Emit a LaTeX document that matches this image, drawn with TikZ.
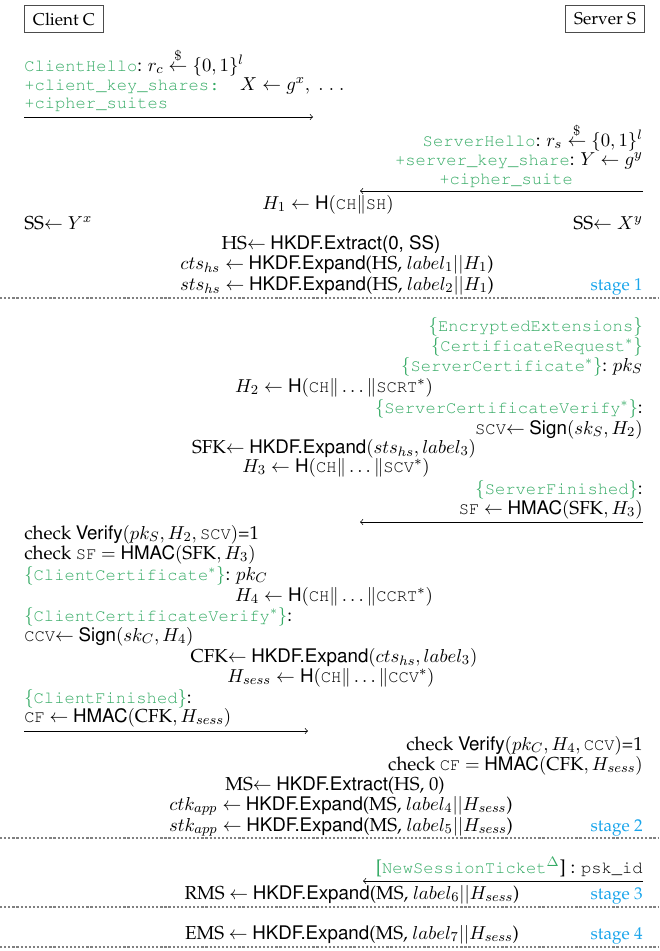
\documentclass[tikz,border=0pt]{standalone}
\usepackage[T1]{fontenc}
\usepackage{palatino}
\usepackage{amsmath}
\usetikzlibrary{positioning}

\definecolor{msggreen}{RGB}{52,170,100}
\definecolor{stageblue}{RGB}{25,165,235}

\newcommand{\msg}[1]{{\fontsize{10}{12}\selectfont\textcolor{msggreen}{\texttt{#1}}}}
\newcommand{\enc}[1]{\textcolor{msggreen}{$\{$\msg{#1}$\}$}}
\newcommand{\fn}[1]{\textsf{#1}}
\newcommand{\tm}[1]{\mbox{\fontsize{10}{12}\selectfont\ttfamily #1}}
\newcommand{\rnd}{\mathrel{\overset{\$}{\leftarrow}}}

\begin{document}
\begin{tikzpicture}[
    x = 0.584pt, y = -0.584pt, % one unit per pixel, y pointing down
    > = to, % thin arrow head
    line width = 0.4pt,
    every node/.style = {inner sep=0pt, font=\fontsize{10.95}{13}\selectfont}
  ]

  \tikzstyle{party}=[rectangle,draw=black!70,inner xsep=5pt,minimum height=16pt,font=\normalsize]
  \tikzstyle{cl}=[anchor=base west] % client side text
  \tikzstyle{sv}=[anchor=base east] % server side text
  \tikzstyle{ctr}=[anchor=base] % computations in the middle
  \tikzstyle{stagelbl}=[anchor=base east,text=stageblue,font=\normalsize]
  \tikzstyle{stageline}=[black!50,dash pattern=on 1.3pt off 1.1pt,line width=0.7pt]

  \useasboundingbox (0,0) rectangle (659,951);

  \node[party] (cli) at (64,19) {Client C};
  \node[party] (srv) [right of=cli, node distance=316pt] {Server S};

  % ClientHello
  \node[cl] (ch) at (24,71) {\msg{ClientHello}: $r_c \rnd \{0,1\}^l$};
  \node[cl] (cks) at (24,90) {\msg{+client\_key\_shares: }$X \leftarrow g^x, \;.\;.\;.$};
  \node[cl] (ccs) at (24,108) {\msg{+cipher\_suites}};
  \coordinate (m1a) at (24,117);
  \coordinate (m1b) at (313,117);
  \draw[->] (m1a) -- (m1b);

  % ServerHello
  \node[sv] (sh) at (643,146) {\msg{ServerHello}: $r_s \rnd \{0,1\}^l$};
  \node[sv] (sks) at (643,165) {\msg{+server\_key\_share}: $Y \leftarrow g^y$};
  \node[cl] (scs) at (439,184) {\msg{+cipher\_suite}};
  \coordinate (m2a) at (643,191);
  \coordinate (m2b) at (360,191);
  \draw[->] (m2a) -- (m2b);

  \node[ctr] (h1) at (328,209) {$H_1 \leftarrow \fn{H}(\tm{CH}\|\tm{SH})$};
  \node[cl] (ssc) at (24,229) {SS$\leftarrow Y^x$};
  \node[sv] (sss) at (643,229) {SS$\leftarrow X^y$};
  \node[ctr] (hs) at (331,249) {HS$\leftarrow$ \fn{HKDF.Extract(0, SS)}};
  \node[ctr] (cts) at (337,269) {$cts_{hs} \leftarrow$ \fn{HKDF.Expand}(HS, $label_1||H_1$)};
  \node[ctr] (sts) at (337,290) {$sts_{hs} \leftarrow$ \fn{HKDF.Expand}(HS, $label_2||H_1$)};
  \node[stagelbl] (st1) at (643,290) {stage 1};
  \coordinate (d1a) at (0,298);
  \coordinate (d1b) at (659,298);
  \draw[stageline] (d1a) -- (d1b);

  % server flight
  \node[sv] (ee) at (643,331) {\enc{EncryptedExtensions}};
  \node[sv] (cr) at (643,351) {\enc{CertificateRequest$^*$}};
  \node[sv] (scrt) at (643,371) {\enc{ServerCertificate$^*$}: $pk_S$};
  \node[ctr] (h2) at (334,392) {$H_2 \leftarrow \fn{H}(\tm{CH}\|\ldots\|\tm{SCRT}^*)$};
  \node[sv] (scvm) at (643,413) {\enc{ServerCertificateVerify$^*$}:};
  \node[sv] (scv) at (643,434) {\tm{SCV}$\leftarrow$ \fn{Sign}$(sk_S, H_2)$};
  \node[ctr] (sfk) at (334,453) {SFK$\leftarrow$ \fn{HKDF.Expand}$(sts_{hs}, label_3)$};
  \node[ctr] (h3) at (336,472) {$H_3 \leftarrow \fn{H}(\tm{CH}\|\ldots\|\tm{SCV}^*)$};
  \node[sv] (sfm) at (643,494) {\enc{ServerFinished}:};
  \node[sv] (sf) at (643,514) {\tm{SF} $\leftarrow$ \fn{HMAC}$(\mbox{SFK}, H_3)$};
  \coordinate (m3a) at (643,522);
  \coordinate (m3b) at (360,522);
  \draw[->] (m3a) -- (m3b);

  % client flight
  \node[cl] (vs) at (24,539) {check \fn{Verify}$(pk_S, H_2, \tm{SCV})$=1};
  \node[cl] (csf) at (24,559) {check \tm{SF} $=$ \fn{HMAC}$(\mbox{SFK}, H_3)$};
  \node[cl] (ccrt) at (24,580) {\enc{ClientCertificate$^*$}: $pk_C$};
  \node[ctr] (h4) at (334,601) {$H_4 \leftarrow \fn{H}(\tm{CH}\|\ldots\|\tm{CCRT}^*)$};
  \node[cl] (ccvm) at (24,621) {\enc{ClientCertificateVerify$^*$}:};
  \node[cl] (ccv) at (24,641) {\tm{CCV}$\leftarrow$ \fn{Sign}$(sk_C, H_4)$};
  \node[ctr] (cfk) at (334,662) {CFK$\leftarrow$ \fn{HKDF.Expand}$(cts_{hs}, label_3)$};
  \node[ctr] (hss) at (331,682) {$H_{sess} \leftarrow \fn{H}(\tm{CH}\|\ldots\|\tm{CCV}^*)$};
  \node[cl] (cfm) at (24,703) {\enc{ClientFinished}:};
  \node[cl] (cf) at (24,722) {\tm{CF} $\leftarrow$ \fn{HMAC}$(\mbox{CFK}, H_{sess})$};
  \coordinate (m4a) at (24,731);
  \coordinate (m4b) at (308,731);
  \draw[->] (m4a) -- (m4b);

  \node[sv] (vc) at (643,750) {check \fn{Verify}$(pk_C, H_4, \tm{CCV})$=1};
  \node[sv] (scf) at (643,770) {check \tm{CF} $=$ \fn{HMAC}$(\mbox{CFK}, H_{sess})$};
  \node[ctr] (ms) at (335,790) {MS$\leftarrow$ \fn{HKDF.Extract}(HS, 0)};
  \node[ctr] (ctk) at (341,810) {$ctk_{app} \leftarrow$ \fn{HKDF.Expand}(MS, $label_4||H_{sess}$)};
  \node[ctr] (stk) at (341,831) {$stk_{app} \leftarrow$ \fn{HKDF.Expand}(MS, $label_5||H_{sess}$)};
  \node[stagelbl] (st2) at (643,831) {stage 2};
  \coordinate (d2a) at (0,838);
  \coordinate (d2b) at (659,838);
  \draw[stageline] (d2a) -- (d2b);

  % resumption
  \node[sv] (nst) at (643,873) {\textcolor{msggreen}{[\msg{NewSessionTicket}$^\Delta$}] : {\fontsize{10}{12}\selectfont\texttt{psk\_id}}};
  \coordinate (m5a) at (643,881);
  \coordinate (m5b) at (363,881);
  \draw[->] (m5a) -- (m5b);
  \node[ctr] (rms) at (352,899) {RMS $\leftarrow$ \fn{HKDF.Expand}(MS, $label_6||H_{sess}$)};
  \node[stagelbl] (st3) at (643,899) {stage 3};
  \coordinate (d3a) at (0,907);
  \coordinate (d3b) at (659,907);
  \draw[stageline] (d3a) -- (d3b);

  % exporter
  \node[ctr] (ems) at (352,939) {EMS $\leftarrow$ \fn{HKDF.Expand}(MS, $label_7||H_{sess}$)};
  \node[stagelbl] (st4) at (643,939) {stage 4};
  \coordinate (d4a) at (0,947);
  \coordinate (d4b) at (659,947);
  \draw[stageline] (d4a) -- (d4b);

\end{tikzpicture}
\end{document}
